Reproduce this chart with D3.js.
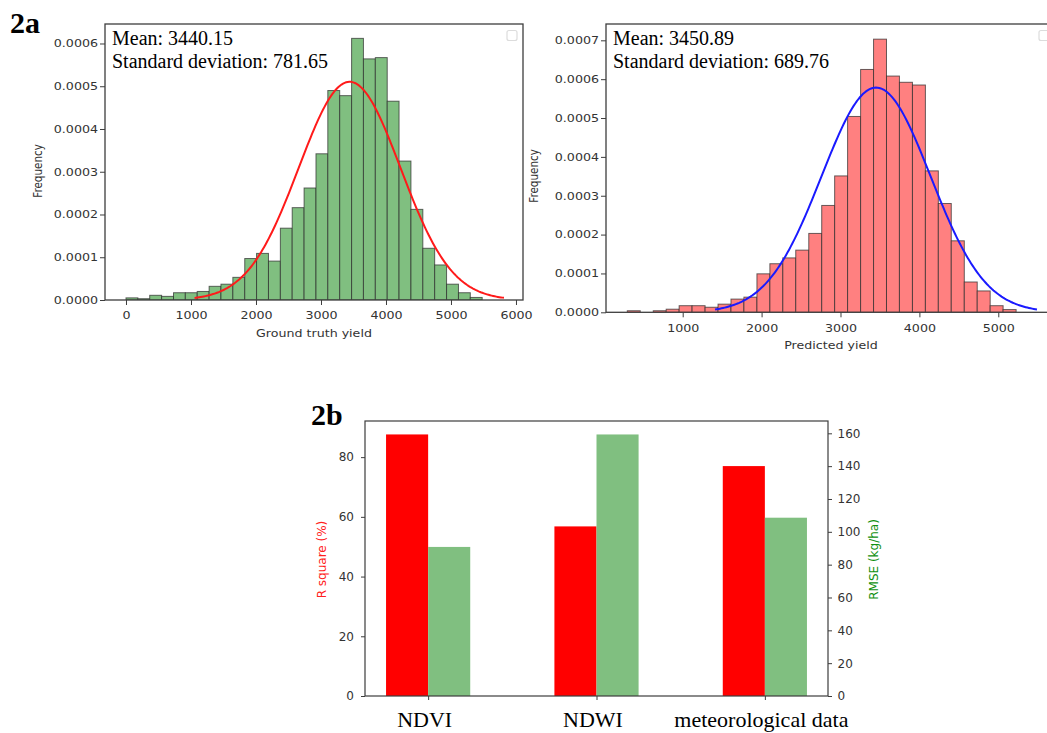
<!DOCTYPE html>
<html><head><meta charset="utf-8">
<script src="https://cdn.jsdelivr.net/npm/d3@7"></script>
<style>body{margin:0;background:#fff} svg{display:block}</style>
</head><body>
<svg id="c" width="1047" height="733"></svg>
<script>
// ---------------- DATA ----------------
// 2a left: ground truth yield histogram (density)
const truthBinEdges = [0,183,365,548,731,913,1096,1279,1461,1644,1827,2009,2192,2375,2557,2740,2923,3105,3288,3471,3653,3836,4019,4201,4384,4567,4749,4932,5115,5297,5480];
const truthDensity = [0.000005,0.000003,0.000011,0.0000085,0.000017,0.000017,0.00002,0.000032,0.000037,0.000053,0.000097,0.000109,0.000091,0.000168,0.000216,0.000262,0.000342,0.00049,0.000478,0.000612,0.000564,0.000567,0.000465,0.000325,0.000212,0.000121,0.000082,0.000037,0.000017,0.000006];
const truthMean = 3440.15;
const truthSD = 781.65;
const truthCurveRange = [1055, 5815];
const truthXTicks = [0,1000,2000,3000,4000,5000,6000];
const truthYTicks = [0,0.0001,0.0002,0.0003,0.0004,0.0005,0.0006];
const truthXLimits = [-323, 6108];
const truthYLimits = [0, 0.0006456];

// 2a right: predicted yield histogram (density)
const predBinEdges = [298,462,627,791,955,1119,1284,1448,1612,1776,1941,2105,2269,2433,2598,2762,2926,3090,3255,3419,3583,3747,3912,4076,4240,4404,4569,4733,4897,5061,5226];
const predDensity = [0.000004,0,0.000004,0.000008,0.000017,0.000017,0.000013,0.000021,0.000034,0.000039,0.000099,0.000125,0.00014,0.00016,0.000203,0.000275,0.000351,0.000504,0.000625,0.000703,0.000608,0.000592,0.000585,0.000364,0.00028,0.000184,0.000078,0.000055,0.000017,0.000007];
const predMean = 3450.89;
const predSD = 689.76;
const predCurveRange = [1410, 5490];
const predXTicks = [1000,2000,3000,4000,5000];
const predYTicks = [0,0.0001,0.0002,0.0003,0.0004,0.0005,0.0006,0.0007];
const predXLimits = [28, 5706];
const predYLimits = [0, 0.000742];

// 2b: model performance by input
const categories = ["NDVI","NDWI","meteorological data"];
const rSquare = [87.6, 56.8, 77.0];
const rmse = [90.8, 159.3, 108.6];
const rSquareTicks = [0,20,40,60,80];
const rmseTicks = [0,20,40,60,80,100,120,140,160];
const rSquareLimits = [0, 92.1];
const rmseLimits = [0, 167.5];

// ---------------- DRAW ----------------
const svg = d3.select("#c");
const SX = 1.24;           // horizontal stretch of the matplotlib text in 2a
const tickFont = "'DejaVu Sans', sans-serif";
const serif = "'Liberation Serif', 'Times New Roman', serif";
const axisColor = "#3d3d3d";

function normalPdf(v, m, s){ return Math.exp(-0.5*((v-m)/s)**2)/(s*Math.sqrt(2*Math.PI)); }

function drawHist(cfg, id){
  const b = cfg.box;
  const x = d3.scaleLinear().domain(cfg.xLim).range([b.x0, b.x1]);
  const y = d3.scaleLinear().domain(cfg.yLim).range([b.y1, b.y0]);
  const g = svg.append("g");
  g.append("clipPath").attr("id", id).append("rect")
    .attr("x", b.x0).attr("y", b.y0).attr("width", b.x1-b.x0).attr("height", b.y1-b.y0);
  const plot = g.append("g").attr("clip-path", `url(#${id})`);
  const bins = cfg.density.map((v,i)=>({x0:cfg.edges[i], x1:cfg.edges[i+1], v})).filter(d=>d.v>0);
  plot.selectAll("rect").data(bins).join("rect")
    .attr("x", d=>x(d.x0)).attr("width", d=>x(d.x1)-x(d.x0))
    .attr("y", d=>y(d.v)).attr("height", d=>y(0)-y(d.v))
    .attr("fill", cfg.fill).attr("stroke", "#2a2a2a").attr("stroke-opacity", 0.7).attr("stroke-width", 1);
  const n = 200;
  const pts = d3.range(n+1).map(k=>{
    const v = cfg.curveRange[0] + (cfg.curveRange[1]-cfg.curveRange[0])*k/n;
    return [v, normalPdf(v, cfg.mean, cfg.sd)];
  });
  plot.append("path").datum(pts)
    .attr("d", d3.line().x(d=>x(d[0])).y(d=>y(d[1])))
    .attr("fill","none").attr("stroke", cfg.lineColor).attr("stroke-width", 2);

  // axes
  const xa = g.append("g").attr("transform", `translate(0,${b.y1})`)
    .call(d3.axisBottom(x).tickValues(cfg.xTicks).tickFormat(d3.format("d")).tickSize(5).tickSizeOuter(0));
  xa.select(".domain").remove();
  xa.selectAll(".tick line").attr("stroke", axisColor);
  xa.selectAll(".tick text").attr("y", 12).attr("fill","#333")
    .attr("font-family", tickFont).attr("font-size", 10.2).attr("transform", `scale(${SX},1)`);
  const ya = g.append("g").attr("transform", `translate(${b.x0},0)`)
    .call(d3.axisLeft(y).tickValues(cfg.yTicks).tickFormat(d3.format(".4f")).tickSize(5).tickSizeOuter(0));
  ya.select(".domain").remove();
  ya.selectAll(".tick line").attr("stroke", axisColor);
  ya.selectAll(".tick text").attr("x", -7/SX).attr("fill","#333")
    .attr("font-family", tickFont).attr("font-size", 10.2).attr("transform", `scale(${SX},1)`);

  // spines
  g.append("rect").attr("x", b.x0).attr("y", b.y0).attr("width", b.x1-b.x0).attr("height", b.y1-b.y0)
    .attr("fill","none").attr("stroke", axisColor).attr("stroke-width", 1.3);

  // labels
  g.append("text").attr("transform", `translate(${(b.x0+b.x1)/2 + cfg.xlabelDx},${b.y1+37}) scale(${SX},1)`)
    .attr("text-anchor","middle").attr("font-family", tickFont).attr("font-size", 10.2).attr("fill","#333")
    .text(cfg.xlabel);
  g.append("text").attr("transform", `translate(${cfg.ylabelX},${cfg.ylabelY}) rotate(-90) scale(1,${SX})`)
    .attr("text-anchor","middle").attr("font-family", tickFont).attr("font-size", 10.4).attr("fill","#333")
    .text("Frequency");

  // empty legend box
  g.append("rect").attr("x", cfg.legendX).attr("y", 30.5).attr("width", 10).attr("height", 10).attr("rx", 2)
    .attr("fill","none").attr("stroke","#dcdcdc").attr("stroke-width",1.2);

  // annotation
  const t = g.append("text").attr("font-family", serif).attr("font-size", 20).attr("fill","#000");
  t.append("tspan").attr("x", b.x0+7).attr("y", 45).text(`Mean: ${cfg.mean.toFixed(2)}`);
  t.append("tspan").attr("x", b.x0+7).attr("y", 67.7).text(`Standard deviation: ${cfg.sd.toFixed(2)}`);
}

drawHist({box:{x0:105,x1:523,y0:24,y1:300}, xLim:truthXLimits, yLim:truthYLimits,
  edges:truthBinEdges, density:truthDensity, mean:truthMean, sd:truthSD, curveRange:truthCurveRange,
  xTicks:truthXTicks, yTicks:truthYTicks, fill:"#80bf80", lineColor:"#ff1a1a",
  xlabel:"Ground truth yield", xlabelDx:0, ylabelX:42, ylabelY:171, legendX:507}, "clipL");

drawHist({box:{x0:606,x1:1054,y0:24,y1:312.3}, xLim:predXLimits, yLim:predYLimits,
  edges:predBinEdges, density:predDensity, mean:predMean, sd:predSD, curveRange:predCurveRange,
  xTicks:predXTicks, yTicks:predYTicks, fill:"#ff8080", lineColor:"#1a1aff",
  xlabel:"Predicted yield", xlabelDx:1, ylabelX:538, ylabelY:176, legendX:1039}, "clipR");

// panel labels
svg.append("text").attr("x", 10).attr("y", 33).attr("font-family", serif).attr("font-weight","bold")
  .attr("font-size", 30).text("2a");
svg.append("text").attr("x", 311).attr("y", 425).attr("font-family", serif).attr("font-weight","bold")
  .attr("font-size", 30).text("2b");

// ---- 2b grouped bars with twin axes ----
(function(){
  const b = {x0:365, x1:828, y0:421, y1:696};
  const x = d3.scaleLinear().domain([-0.375, 2.375]).range([b.x0, b.x1]);
  const yL = d3.scaleLinear().domain(rSquareLimits).range([b.y1, b.y0]);
  const yR = d3.scaleLinear().domain(rmseLimits).range([b.y1, b.y0]);
  const w = 0.25;
  const g = svg.append("g");
  g.selectAll("rect.r2").data(rSquare).join("rect").attr("class","r2")
    .attr("x", (d,i)=>x(i-w)).attr("width", (d,i)=>x(i)-x(i-w))
    .attr("y", d=>yL(d)).attr("height", d=>yL(0)-yL(d)).attr("fill","#ff0000");
  g.selectAll("rect.rm").data(rmse).join("rect").attr("class","rm")
    .attr("x", (d,i)=>x(i)).attr("width", (d,i)=>x(i+w)-x(i))
    .attr("y", d=>yR(d)).attr("height", d=>yR(0)-yR(d)).attr("fill","#80bf80");

  const fs = 12;
  const la = g.append("g").attr("transform", `translate(${b.x0},0)`)
    .call(d3.axisLeft(yL).tickValues(rSquareTicks).tickSize(4));
  la.select(".domain").remove();
  la.selectAll(".tick line").attr("stroke", axisColor);
  la.selectAll(".tick text").attr("x",-11).attr("font-family", tickFont).attr("font-size", fs).attr("fill","#333");
  const ra = g.append("g").attr("transform", `translate(${b.x1},0)`)
    .call(d3.axisRight(yR).tickValues(rmseTicks).tickSize(4));
  ra.select(".domain").remove();
  ra.selectAll(".tick line").attr("stroke", axisColor);
  ra.selectAll(".tick text").attr("x",9.5).attr("font-family", tickFont).attr("font-size", fs).attr("fill","#333");
  const ba = g.append("g").attr("transform", `translate(0,${b.y1})`)
    .call(d3.axisBottom(x).tickValues(d3.range(categories.length)).tickFormat(i=>categories[i]).tickSize(4));
  ba.select(".domain").remove();
  ba.selectAll(".tick line").attr("stroke", axisColor);
  ba.selectAll(".tick text").attr("x", -4).attr("y", 31).attr("dy", 0).attr("font-family", serif).attr("font-size", 22).attr("fill","#000");

  g.append("rect").attr("x", b.x0).attr("y", b.y0).attr("width", b.x1-b.x0).attr("height", b.y1-b.y0)
    .attr("fill","none").attr("stroke", axisColor).attr("stroke-width", 1.2);

  g.append("text").attr("transform", `translate(326,${(b.y0+b.y1)/2+1}) rotate(-90)`)
    .attr("text-anchor","middle").attr("font-family", tickFont).attr("font-size", 12).attr("fill","#ff2020")
    .text("R square (%)");
  g.append("text").attr("transform", `translate(878,${(b.y0+b.y1)/2+1}) rotate(-90)`)
    .attr("text-anchor","middle").attr("font-family", tickFont).attr("font-size", 12).attr("fill","#109010")
    .text("RMSE (kg/ha)");
})();
</script>
</body></html>
